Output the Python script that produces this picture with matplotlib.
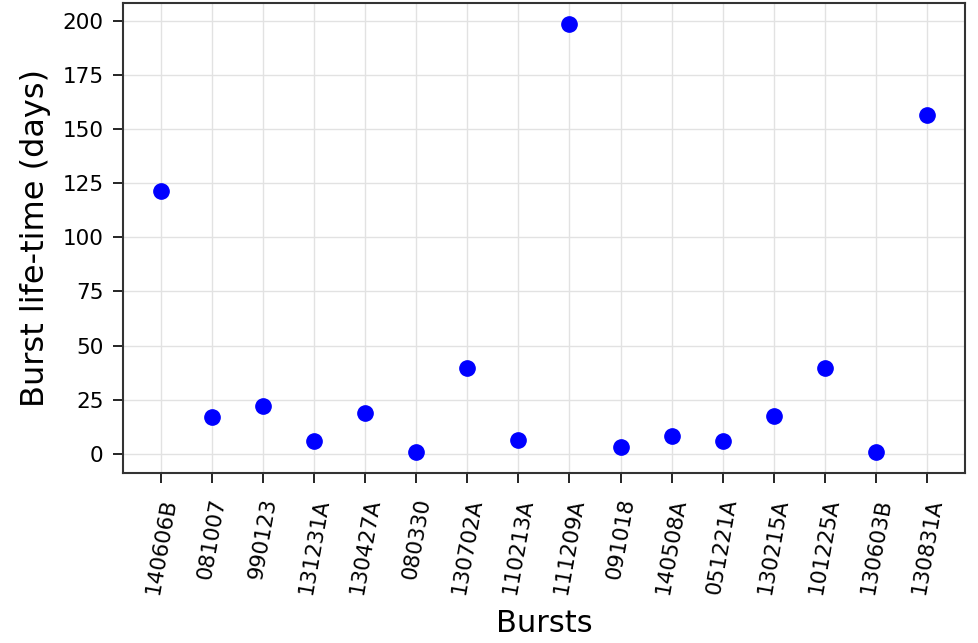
import matplotlib
matplotlib.use("Agg")
import matplotlib.pyplot as plt

bursts = ["140606B", "081007", "990123", "131231A", "130427A", "080330",
          "130702A", "110213A", "111209A", "091018", "140508A", "051221A",
          "130215A", "101225A", "130603B", "130831A"]
lifetime = [121.3, 16.7, 22.2, 5.6, 19.0, 0.9, 39.8, 6.5, 198.6, 3.2, 7.9,
            5.6, 17.6, 39.8, 0.9, 156.5]

fig = plt.figure(figsize=(9.79, 6.43), dpi=100)
ax = fig.add_axes([0.1256, 0.2644, 0.8601, 0.731])
x = list(range(len(bursts)))
ax.plot(x, lifetime, 'o', color='blue', markersize=11)
ax.set_xticks(x)
ax.set_xticklabels(bursts, rotation=80, fontsize=15.5)
ax.set_yticks([0, 25, 50, 75, 100, 125, 150, 175, 200])
ax.tick_params(axis='y', labelsize=15.5, pad=7)
ax.tick_params(axis='x', pad=10)
ax.tick_params(length=7, width=1.2)
ax.grid(True, color='#e2e2e2', linewidth=1)
ax.set_axisbelow(True)
for s in ax.spines.values():
    s.set_linewidth(1.5)
    s.set_color('#333333')
ax.set_ylabel("Burst life-time (days)", fontsize=23, labelpad=8)
ax.set_xlabel("Bursts", fontsize=22, labelpad=10)
fig.savefig("out.png", dpi=100)
